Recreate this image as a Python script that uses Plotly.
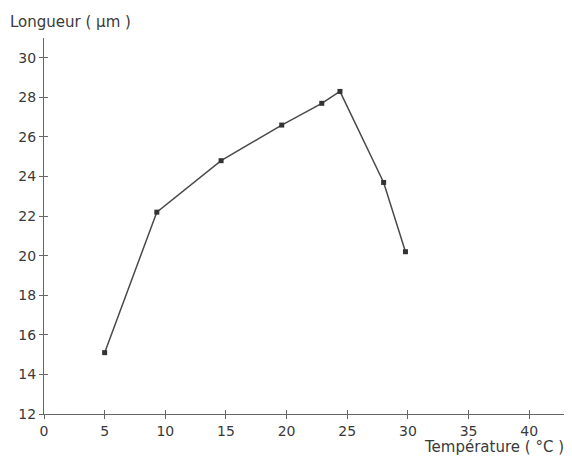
import plotly.graph_objects as go

temperature = [5, 9.3, 14.6, 19.6, 22.9, 24.4, 28.0, 29.8]
longueur = [15.1, 22.2, 24.8, 26.6, 27.7, 28.3, 23.7, 20.2]
x_ticks = [0, 5, 10, 15, 20, 25, 30, 35, 40]
y_ticks = [12, 14, 16, 18, 20, 22, 24, 26, 28, 30]

ink = "#3a3a3a"
tick_font = dict(family="DejaVu Sans", size=14, color=ink)
title_font = dict(family="DejaVu Sans", size=15, color=ink)

fig = go.Figure()
fig.add_trace(go.Scatter(
    x=temperature, y=longueur, mode="lines+markers",
    line=dict(color="#4a4a4a", width=1.5),
    marker=dict(symbol="square", size=5, color="#333333"),
    showlegend=False, xaxis="x", yaxis="y",
))
# invisible trace to activate the duplicate axes (for cross-shaped ticks)
fig.add_trace(go.Scatter(x=[None], y=[None], xaxis="x2", yaxis="y2", showlegend=False))

common_x = dict(range=[0, 43.2], tickvals=x_ticks, showgrid=False, zeroline=False, automargin=False)
common_y = dict(range=[12, 31], tickvals=y_ticks, showgrid=False, zeroline=False, automargin=False)

# the page body has an 8px margin, so the figure is sized to fit the 572x458 window
fig.update_layout(
    width=564, height=450,
    margin=dict(l=36, r=4, t=30, b=44),
    paper_bgcolor="white", plot_bgcolor="white",
    font=tick_font,
    xaxis=dict(**common_x, showline=True, linecolor="#666666", linewidth=1,
               ticks="outside", ticklen=4, tickcolor="#666666",
               tickfont=tick_font),
    yaxis=dict(**common_y, showline=True, linecolor="#666666", linewidth=1,
               ticks="outside", ticklen=4, tickcolor="#666666",
               tickfont=tick_font),
    xaxis2=dict(**common_x, overlaying="x", anchor="y", showline=False,
                ticks="inside", ticklen=4, tickcolor="#666666",
                showticklabels=False),
    yaxis2=dict(**common_y, overlaying="y", anchor="x", showline=False,
                ticks="inside", ticklen=4, tickcolor="#666666",
                showticklabels=False),
    annotations=[
        dict(text="Longueur ( µm )", x=-0.0687, y=1, xref="paper", yref="paper",
             xanchor="left", yanchor="middle", yshift=16,
             showarrow=False, font=title_font),
        dict(text="Température ( °C )", x=1, y=0, xref="paper", yref="paper",
             xanchor="right", yanchor="middle", yshift=-33, xshift=-2,
             showarrow=False, font=title_font),
    ],
)

fig.write_html("out.html")
